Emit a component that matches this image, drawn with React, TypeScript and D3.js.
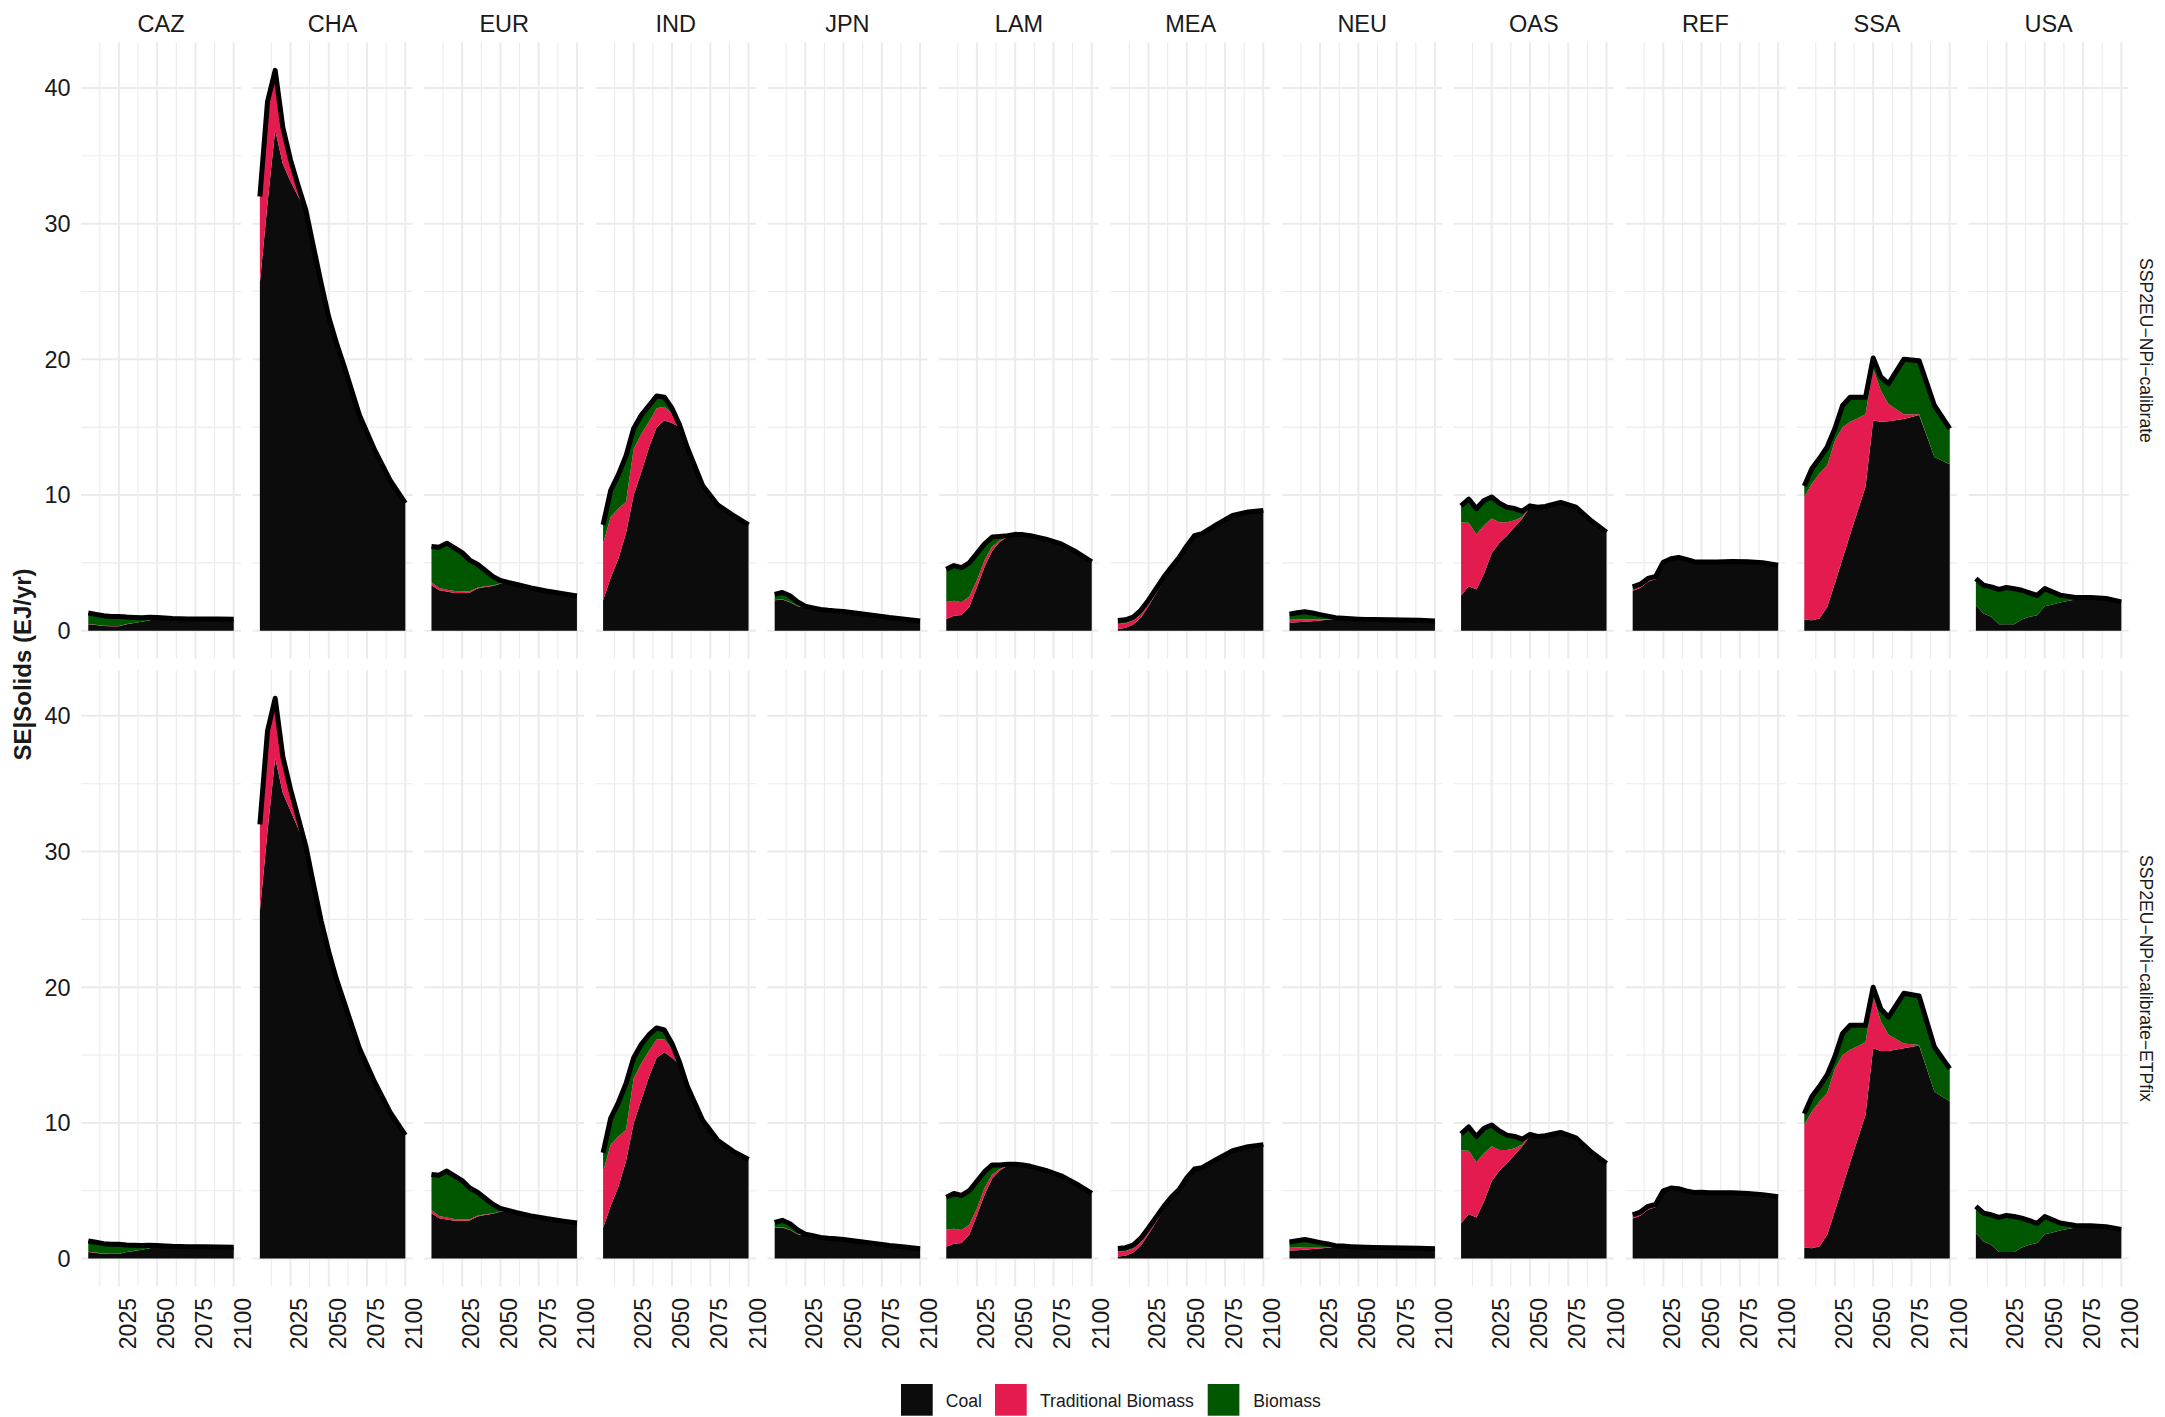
import React from 'react';
import * as d3 from 'd3';

// ---------- data ----------
const years = [2005, 2010, 2015, 2020, 2025, 2030, 2035, 2040, 2045, 2050, 2055, 2060, 2070, 2080, 2090, 2100];
const regions = ['CAZ', 'CHA', 'EUR', 'IND', 'JPN', 'LAM', 'MEA', 'NEU', 'OAS', 'REF', 'SSA', 'USA'];
const scenarios = ['SSP2EU\u2212NPi\u2212calibrate', 'SSP2EU\u2212NPi\u2212calibrate\u2212ETPfix'];
const seriesNames = ['Coal', 'Traditional Biomass', 'Biomass'];
const seriesColors = ['#0c0c0c', '#e31b4f', '#005700'];
const xTicks = [2025, 2050, 2075, 2100];
const xTickLabels = ['2025', '2050', '2075', '2100'];
const xMinorTicks = [2012.5, 2037.5, 2062.5, 2087.5];
const yTicks = [0, 10, 20, 30, 40];
const yTickLabels = ['0', '10', '20', '30', '40'];
const yMinorTicks = [5, 15, 25, 35];
const yTitle = 'SE|Solids (EJ/yr)';

// scenario 1: SSP2EU-NPi-calibrate
const CAZ_coal = [0.48, 0.42, 0.35, 0.33, 0.33, 0.48, 0.56, 0.65, 0.77, 0.85, 0.88, 0.88, 0.87, 0.87, 0.86, 0.84];
const CAZ_trad = [0.02, 0.02, 0.02, 0.02, 0.02, 0.01, 0.01, 0.01, 0, 0, 0, 0, 0, 0, 0, 0];
const CAZ_bio = [0.8, 0.76, 0.73, 0.7, 0.7, 0.51, 0.41, 0.3, 0.22, 0.12, 0.05, 0.02, 0, 0, 0, 0];

const CHA_coal = [25.6, 31.5, 36.9, 34.4, 33.1, 32.0, 31.0, 28.3, 25.6, 23.1, 21.2, 19.5, 15.9, 13.3, 11.1, 9.4];
const CHA_trad = [6.3, 7.4, 4.2, 2.6, 1.5, 0.7, 0, 0, 0, 0, 0, 0, 0, 0, 0, 0];
const CHA_bio = [0.1, 0.1, 0.2, 0.1, 0.1, 0.1, 0, 0, 0, 0, 0, 0, 0, 0, 0, 0];

const EUR_coal = [3.35, 2.98, 2.88, 2.78, 2.78, 2.8, 3.1, 3.22, 3.3, 3.45, 3.55, 3.42, 3.15, 2.93, 2.75, 2.55];
const EUR_trad = [0.22, 0.16, 0.14, 0.14, 0.12, 0.1, 0.06, 0.05, 0.03, 0.02, 0, 0, 0, 0, 0, 0];
const EUR_bio = [2.63, 3.01, 3.43, 3.18, 2.85, 2.3, 1.74, 1.18, 0.67, 0.23, 0, 0, 0, 0, 0, 0];

const IND_coal = [2.25, 3.9, 5.3, 7.2, 10.0, 11.7, 13.5, 15.0, 15.5, 15.3, 15.0, 13.5, 10.7, 9.25, 8.5, 7.8];
const IND_trad = [4.15, 4.5, 3.7, 2.3, 3.4, 2.8, 1.9, 1.4, 1.0, 0.7, 0.1, 0, 0, 0, 0, 0];
const IND_bio = [1.4, 1.95, 2.5, 3.4, 1.5, 1.4, 1.2, 0.9, 0.7, 0.4, 0.05, 0, 0, 0, 0, 0];

const JPN_coal = [2.25, 2.3, 2.1, 1.8, 1.72, 1.66, 1.56, 1.5, 1.46, 1.41, 1.34, 1.26, 1.12, 0.97, 0.85, 0.72];
const JPN_trad = [0.02, 0.02, 0.02, 0.01, 0, 0, 0, 0, 0, 0, 0, 0, 0, 0, 0, 0];
const JPN_bio = [0.4, 0.5, 0.45, 0.3, 0.08, 0.02, 0, 0, 0, 0, 0, 0, 0, 0, 0, 0];

const LAM_coal = [0.87, 1.1, 1.15, 1.75, 3.2, 4.7, 5.9, 6.55, 6.9, 7.1, 7.08, 7.0, 6.75, 6.4, 5.8, 5.07];
const LAM_trad = [1.25, 1.1, 0.95, 0.75, 0.5, 0.5, 0.3, 0.1, 0.05, 0, 0, 0, 0, 0, 0, 0];
const LAM_bio = [2.4, 2.6, 2.55, 2.5, 2.0, 1.2, 0.7, 0.3, 0.05, 0, 0, 0, 0, 0, 0, 0];

const MEA_coal = [0.15, 0.2, 0.45, 0.95, 1.8, 2.75, 3.7, 4.55, 5.3, 6.2, 7.0, 7.15, 7.85, 8.5, 8.75, 8.85];
const MEA_trad = [0.35, 0.35, 0.3, 0.25, 0.15, 0.1, 0.05, 0.02, 0, 0, 0, 0, 0, 0, 0, 0];
const MEA_bio = [0.25, 0.25, 0.25, 0.3, 0.3, 0.25, 0.2, 0.12, 0.08, 0.05, 0, 0, 0, 0, 0, 0];

const NEU_coal = [0.6, 0.62, 0.65, 0.7, 0.75, 0.8, 0.85, 0.9, 0.88, 0.85, 0.83, 0.82, 0.8, 0.78, 0.76, 0.72];
const NEU_trad = [0.2, 0.2, 0.2, 0.15, 0.1, 0.05, 0.02, 0, 0, 0, 0, 0, 0, 0, 0, 0];
const NEU_bio = [0.42, 0.5, 0.55, 0.45, 0.33, 0.22, 0.08, 0.02, 0, 0, 0, 0, 0, 0, 0, 0];

const OAS_coal = [2.6, 3.28, 3.03, 4.2, 5.7, 6.47, 7.0, 7.65, 8.27, 9.1, 9.1, 9.15, 9.45, 9.1, 8.1, 7.25];
const OAS_trad = [5.37, 4.67, 4.07, 3.57, 2.57, 1.53, 1.0, 0.49, 0.13, 0, 0, 0, 0, 0, 0, 0];
const OAS_bio = [1.23, 1.75, 1.9, 1.83, 1.58, 1.4, 1.1, 0.86, 0.4, 0.1, 0, 0, 0, 0, 0, 0];

const REF_coal = [2.95, 3.15, 3.6, 3.8, 4.9, 5.2, 5.35, 5.22, 5.06, 5.06, 5.07, 5.07, 5.1, 5.08, 5.0, 4.83];
const REF_trad = [0.13, 0.13, 0.12, 0.1, 0.08, 0.05, 0.03, 0.02, 0.01, 0.01, 0, 0, 0, 0, 0, 0];
const REF_bio = [0.15, 0.15, 0.13, 0.1, 0.07, 0.05, 0.02, 0.01, 0.01, 0, 0, 0, 0, 0, 0, 0];

const SSA_coal = [0.82, 0.77, 0.9, 1.75, 3.5, 5.3, 7.1, 8.85, 10.6, 15.5, 15.4, 15.44, 15.6, 15.9, 12.8, 12.27];
const SSA_trad = [9.04, 10.07, 10.7, 10.45, 10.5, 9.7, 8.3, 6.8, 5.35, 3.8, 2.3, 1.26, 0.35, 0.05, 0, 0];
const SSA_bio = [0.81, 1.11, 1.1, 1.35, 0.9, 1.6, 1.8, 1.55, 1.25, 0.8, 1.0, 1.5, 4.05, 3.95, 3.8, 2.63];

const USA_coal = [1.88, 1.26, 1.02, 0.48, 0.48, 0.48, 0.82, 1.02, 1.14, 1.8, 1.93, 2.07, 2.3, 2.44, 2.37, 2.12];
const USA_trad = [0, 0, 0, 0, 0, 0, 0, 0, 0, 0, 0, 0, 0, 0, 0, 0];
const USA_bio = [1.96, 2.09, 2.21, 2.56, 2.7, 2.62, 2.16, 1.77, 1.46, 1.3, 0.93, 0.55, 0.14, 0, 0, 0];

// scenario 2: SSP2EU-NPi-calibrate-ETPfix
const CAZ_coal_etp = [0.48, 0.42, 0.35, 0.33, 0.33, 0.48, 0.56, 0.65, 0.77, 0.85, 0.88, 0.88, 0.87, 0.87, 0.86, 0.84];
const CAZ_trad_etp = [0.02, 0.02, 0.02, 0.02, 0.02, 0.01, 0.01, 0.01, 0, 0, 0, 0, 0, 0, 0, 0];
const CAZ_bio_etp = [0.8, 0.76, 0.73, 0.7, 0.7, 0.51, 0.41, 0.3, 0.22, 0.12, 0.05, 0.02, 0, 0, 0, 0];

const CHA_coal_etp = [25.6, 31.5, 36.9, 34.3, 33.0, 31.7, 30.4, 27.6, 24.9, 22.6, 20.6, 18.9, 15.5, 13.0, 10.8, 9.1];
const CHA_trad_etp = [6.3, 7.3, 4.2, 2.6, 1.5, 0.7, 0, 0, 0, 0, 0, 0, 0, 0, 0, 0];
const CHA_bio_etp = [0.1, 0.1, 0.2, 0.1, 0.1, 0.1, 0, 0, 0, 0, 0, 0, 0, 0, 0, 0];

const EUR_coal_etp = [3.35, 2.98, 2.88, 2.78, 2.78, 2.8, 3.1, 3.22, 3.3, 3.45, 3.55, 3.4, 3.15, 2.95, 2.78, 2.62];
const EUR_trad_etp = [0.22, 0.16, 0.14, 0.14, 0.12, 0.1, 0.06, 0.05, 0.03, 0.02, 0, 0, 0, 0, 0, 0];
const EUR_bio_etp = [2.63, 3.01, 3.43, 3.18, 2.85, 2.3, 1.74, 1.18, 0.67, 0.23, 0, 0, 0, 0, 0, 0];

const IND_coal_etp = [2.25, 3.9, 5.3, 7.2, 10.0, 11.7, 13.4, 14.8, 15.2, 14.8, 14.3, 12.7, 10.2, 8.7, 7.9, 7.3];
const IND_trad_etp = [4.15, 4.5, 3.7, 2.3, 3.3, 2.7, 1.9, 1.35, 0.95, 0.65, 0.1, 0, 0, 0, 0, 0];
const IND_bio_etp = [1.4, 1.95, 2.5, 3.4, 1.5, 1.4, 1.2, 0.85, 0.7, 0.4, 0.05, 0, 0, 0, 0, 0];

const JPN_coal_etp = [2.25, 2.3, 2.1, 1.8, 1.72, 1.66, 1.56, 1.5, 1.46, 1.41, 1.34, 1.26, 1.12, 0.97, 0.85, 0.72];
const JPN_trad_etp = [0.02, 0.02, 0.02, 0.01, 0, 0, 0, 0, 0, 0, 0, 0, 0, 0, 0, 0];
const JPN_bio_etp = [0.4, 0.5, 0.45, 0.3, 0.08, 0.02, 0, 0, 0, 0, 0, 0, 0, 0, 0, 0];

const LAM_coal_etp = [0.87, 1.1, 1.15, 1.75, 3.2, 4.7, 5.9, 6.5, 6.85, 6.95, 6.9, 6.8, 6.5, 6.1, 5.5, 4.8];
const LAM_trad_etp = [1.25, 1.1, 0.95, 0.75, 0.5, 0.5, 0.3, 0.1, 0.05, 0, 0, 0, 0, 0, 0, 0];
const LAM_bio_etp = [2.4, 2.6, 2.55, 2.5, 2.0, 1.2, 0.7, 0.3, 0.05, 0, 0, 0, 0, 0, 0, 0];

const MEA_coal_etp = [0.15, 0.2, 0.45, 0.95, 1.8, 2.7, 3.6, 4.4, 5.0, 5.9, 6.6, 6.7, 7.35, 7.95, 8.25, 8.4];
const MEA_trad_etp = [0.35, 0.35, 0.3, 0.25, 0.15, 0.1, 0.05, 0.02, 0, 0, 0, 0, 0, 0, 0, 0];
const MEA_bio_etp = [0.25, 0.25, 0.25, 0.3, 0.3, 0.25, 0.2, 0.12, 0.08, 0.05, 0, 0, 0, 0, 0, 0];

const NEU_coal_etp = [0.6, 0.62, 0.65, 0.7, 0.75, 0.8, 0.85, 0.9, 0.88, 0.85, 0.83, 0.82, 0.8, 0.78, 0.76, 0.72];
const NEU_trad_etp = [0.2, 0.2, 0.2, 0.15, 0.1, 0.05, 0.02, 0, 0, 0, 0, 0, 0, 0, 0, 0];
const NEU_bio_etp = [0.42, 0.5, 0.55, 0.45, 0.33, 0.22, 0.08, 0.02, 0, 0, 0, 0, 0, 0, 0, 0];

const OAS_coal_etp = [2.6, 3.28, 3.03, 4.2, 5.7, 6.47, 7.0, 7.65, 8.27, 9.05, 9.0, 9.05, 9.3, 8.9, 7.85, 7.0];
const OAS_trad_etp = [5.37, 4.67, 4.07, 3.57, 2.57, 1.53, 1.0, 0.49, 0.13, 0, 0, 0, 0, 0, 0, 0];
const OAS_bio_etp = [1.23, 1.75, 1.9, 1.83, 1.58, 1.4, 1.1, 0.86, 0.4, 0.1, 0, 0, 0, 0, 0, 0];

const REF_coal_etp = [2.95, 3.15, 3.6, 3.8, 4.85, 5.1, 5.1, 4.95, 4.85, 4.88, 4.85, 4.85, 4.85, 4.8, 4.7, 4.55];
const REF_trad_etp = [0.13, 0.13, 0.12, 0.1, 0.08, 0.05, 0.03, 0.02, 0.01, 0.01, 0, 0, 0, 0, 0, 0];
const REF_bio_etp = [0.15, 0.15, 0.13, 0.1, 0.07, 0.05, 0.02, 0.01, 0.01, 0, 0, 0, 0, 0, 0, 0];

const SSA_coal_etp = [0.82, 0.77, 0.9, 1.75, 3.5, 5.3, 7.1, 8.85, 10.6, 15.5, 15.3, 15.3, 15.5, 15.7, 12.3, 11.6];
const SSA_trad_etp = [9.04, 10.07, 10.7, 10.45, 10.5, 9.7, 8.3, 6.8, 5.35, 3.8, 2.2, 1.2, 0.35, 0.05, 0, 0];
const SSA_bio_etp = [0.81, 1.11, 1.1, 1.35, 0.9, 1.6, 1.8, 1.55, 1.25, 0.7, 0.9, 1.3, 3.7, 3.6, 3.3, 2.4];

const USA_coal_etp = [1.88, 1.26, 1.02, 0.48, 0.48, 0.48, 0.82, 1.02, 1.14, 1.8, 1.93, 2.07, 2.3, 2.42, 2.35, 2.15];
const USA_trad_etp = [0, 0, 0, 0, 0, 0, 0, 0, 0, 0, 0, 0, 0, 0, 0, 0];
const USA_bio_etp = [1.96, 2.09, 2.21, 2.56, 2.7, 2.62, 2.16, 1.77, 1.46, 1.3, 0.93, 0.55, 0.14, 0, 0, 0];

// lookup table built from the named arrays: [scenario][region] -> [coal, trad, bio]
const table: number[][][][] = [
  [
    [CAZ_coal, CAZ_trad, CAZ_bio], [CHA_coal, CHA_trad, CHA_bio], [EUR_coal, EUR_trad, EUR_bio],
    [IND_coal, IND_trad, IND_bio], [JPN_coal, JPN_trad, JPN_bio], [LAM_coal, LAM_trad, LAM_bio],
    [MEA_coal, MEA_trad, MEA_bio], [NEU_coal, NEU_trad, NEU_bio], [OAS_coal, OAS_trad, OAS_bio],
    [REF_coal, REF_trad, REF_bio], [SSA_coal, SSA_trad, SSA_bio], [USA_coal, USA_trad, USA_bio],
  ],
  [
    [CAZ_coal_etp, CAZ_trad_etp, CAZ_bio_etp], [CHA_coal_etp, CHA_trad_etp, CHA_bio_etp], [EUR_coal_etp, EUR_trad_etp, EUR_bio_etp],
    [IND_coal_etp, IND_trad_etp, IND_bio_etp], [JPN_coal_etp, JPN_trad_etp, JPN_bio_etp], [LAM_coal_etp, LAM_trad_etp, LAM_bio_etp],
    [MEA_coal_etp, MEA_trad_etp, MEA_bio_etp], [NEU_coal_etp, NEU_trad_etp, NEU_bio_etp], [OAS_coal_etp, OAS_trad_etp, OAS_bio_etp],
    [REF_coal_etp, REF_trad_etp, REF_bio_etp], [SSA_coal_etp, SSA_trad_etp, SSA_bio_etp], [USA_coal_etp, USA_trad_etp, USA_bio_etp],
  ],
];

// ---------- layout ----------
const W = 2165;
const H = 1417;
const left0 = 81;
const panelW = 160;
const colGap = 11.6;
const top0 = 42.3;
const panelH = 616.4;
const rowGap = 11.5;
const FONT = "'Liberation Sans', Arial, Helvetica, sans-serif";
const TEXT = '#1a1a1a';
const GRID = '#ebebeb';

export default function App() {
  const totalsAll = table.flatMap((sc) =>
    sc.map((reg) => years.map((_, i) => reg[0][i] + reg[1][i] + reg[2][i]))
  );
  const maxY = d3.max(totalsAll.flat()) as number;
  const spanX = 2100 - 2005;
  const x = d3.scaleLinear().domain([2005 - 0.05 * spanX, 2100 + 0.05 * spanX]).range([0, panelW]);
  const y = d3.scaleLinear().domain([-0.05 * maxY, 1.05 * maxY]).range([panelH, 0]);

  const area = d3
    .area<{ yr: number; lo: number; hi: number }>()
    .x((d) => x(d.yr))
    .y0((d) => y(d.lo))
    .y1((d) => y(d.hi));
  const line = d3
    .line<{ yr: number; v: number }>()
    .x((d) => x(d.yr))
    .y((d) => y(d.v));

  const panels: React.ReactNode[] = [];
  scenarios.forEach((sc, si) => {
    const py = top0 + si * (panelH + rowGap);
    regions.forEach((reg, ri) => {
      const px = left0 + ri * (panelW + colGap);
      const series = table[si][ri];
      const stacks: { yr: number; lo: number; hi: number }[][] = [[], [], []];
      const totals: { yr: number; v: number }[] = [];
      years.forEach((yr, i) => {
        let acc = 0;
        for (let k = 0; k < 3; k++) {
          const v = series[k][i];
          stacks[k].push({ yr, lo: acc, hi: acc + v });
          acc += v;
        }
        totals.push({ yr, v: acc });
      });
      panels.push(
        <g key={`${si}-${ri}`} transform={`translate(${px},${py})`}>
          {yMinorTicks.map((t) => (
            <line key={`ym${t}`} x1={0} x2={panelW} y1={y(t)} y2={y(t)} stroke={GRID} strokeWidth={1.1} />
          ))}
          {xMinorTicks.map((t) => (
            <line key={`xm${t}`} x1={x(t)} x2={x(t)} y1={0} y2={panelH} stroke={GRID} strokeWidth={1.1} />
          ))}
          {yTicks.map((t) => (
            <line key={`y${t}`} x1={0} x2={panelW} y1={y(t)} y2={y(t)} stroke={GRID} strokeWidth={2} />
          ))}
          {xTicks.map((t) => (
            <line key={`x${t}`} x1={x(t)} x2={x(t)} y1={0} y2={panelH} stroke={GRID} strokeWidth={2} />
          ))}
          {stacks.map((s, k) => (
            <path key={`a${k}`} d={area(s) || ''} fill={seriesColors[k]} />
          ))}
          <path
            d={line(totals) || ''}
            fill="none"
            stroke="#000"
            strokeWidth={5}
            strokeLinejoin="round"
            strokeLinecap="butt"
          />
          {si === 0 && (
            <text x={panelW / 2} y={32.3 - py} textAnchor="middle" fontSize={23.5} fill={TEXT} fontFamily={FONT}>
              {reg}
            </text>
          )}
          {si === 1 &&
            xTicks.map((t, k) => (
              <text
                key={`xl${t}`}
                transform={`translate(${x(t)},${1298 - py}) rotate(-90)`}
                y={17}
                textAnchor="end"
                fontSize={23}
                fill={TEXT}
                fontFamily={FONT}
              >
                {xTickLabels[k]}
              </text>
            ))}
        </g>
      );
    });
  });

  const yLabels: React.ReactNode[] = [];
  scenarios.forEach((sc, si) => {
    const py = top0 + si * (panelH + rowGap);
    yTicks.forEach((t, k) => {
      yLabels.push(
        <text
          key={`yl${si}-${t}`}
          x={70.7}
          y={py + y(t) + 8.3}
          textAnchor="end"
          fontSize={23.5}
          fill={TEXT}
          fontFamily={FONT}
        >
          {yTickLabels[k]}
        </text>
      );
    });
    yLabels.push(
      <text
        key={`strip${si}`}
        transform={`translate(2140,${py + panelH / 2}) rotate(90)`}
        textAnchor="middle"
        fontSize={17.6}
        fill={TEXT}
        fontFamily={FONT}
      >
        {sc}
      </text>
    );
  });

  const legendItems = [
    { box: 901, text: 945.7 },
    { box: 995, text: 1040 },
    { box: 1207.7, text: 1253.3 },
  ];

  return (
    <svg
      width={W}
      height={H}
      viewBox={`0 0 ${W} ${H}`}
      style={{ position: 'absolute', left: 0, top: 0, background: '#fff' }}
    >
      <rect x={0} y={0} width={W} height={H} fill="#fff" />
      {panels}
      {yLabels}
      <text
        transform={`translate(30.5,${top0 + panelH + rowGap / 2}) rotate(-90)`}
        textAnchor="middle"
        fontSize={24}
        fontWeight="bold"
        fill={TEXT}
        fontFamily={FONT}
      >
        {yTitle}
      </text>
      {seriesNames.map((name, k) => (
        <g key={name}>
          <rect x={legendItems[k].box} y={1384} width={31.7} height={31.7} fill={seriesColors[k]} />
          <text x={legendItems[k].text} y={1407} fontSize={17.6} fill={TEXT} fontFamily={FONT}>
            {name}
          </text>
        </g>
      ))}
    </svg>
  );
}
